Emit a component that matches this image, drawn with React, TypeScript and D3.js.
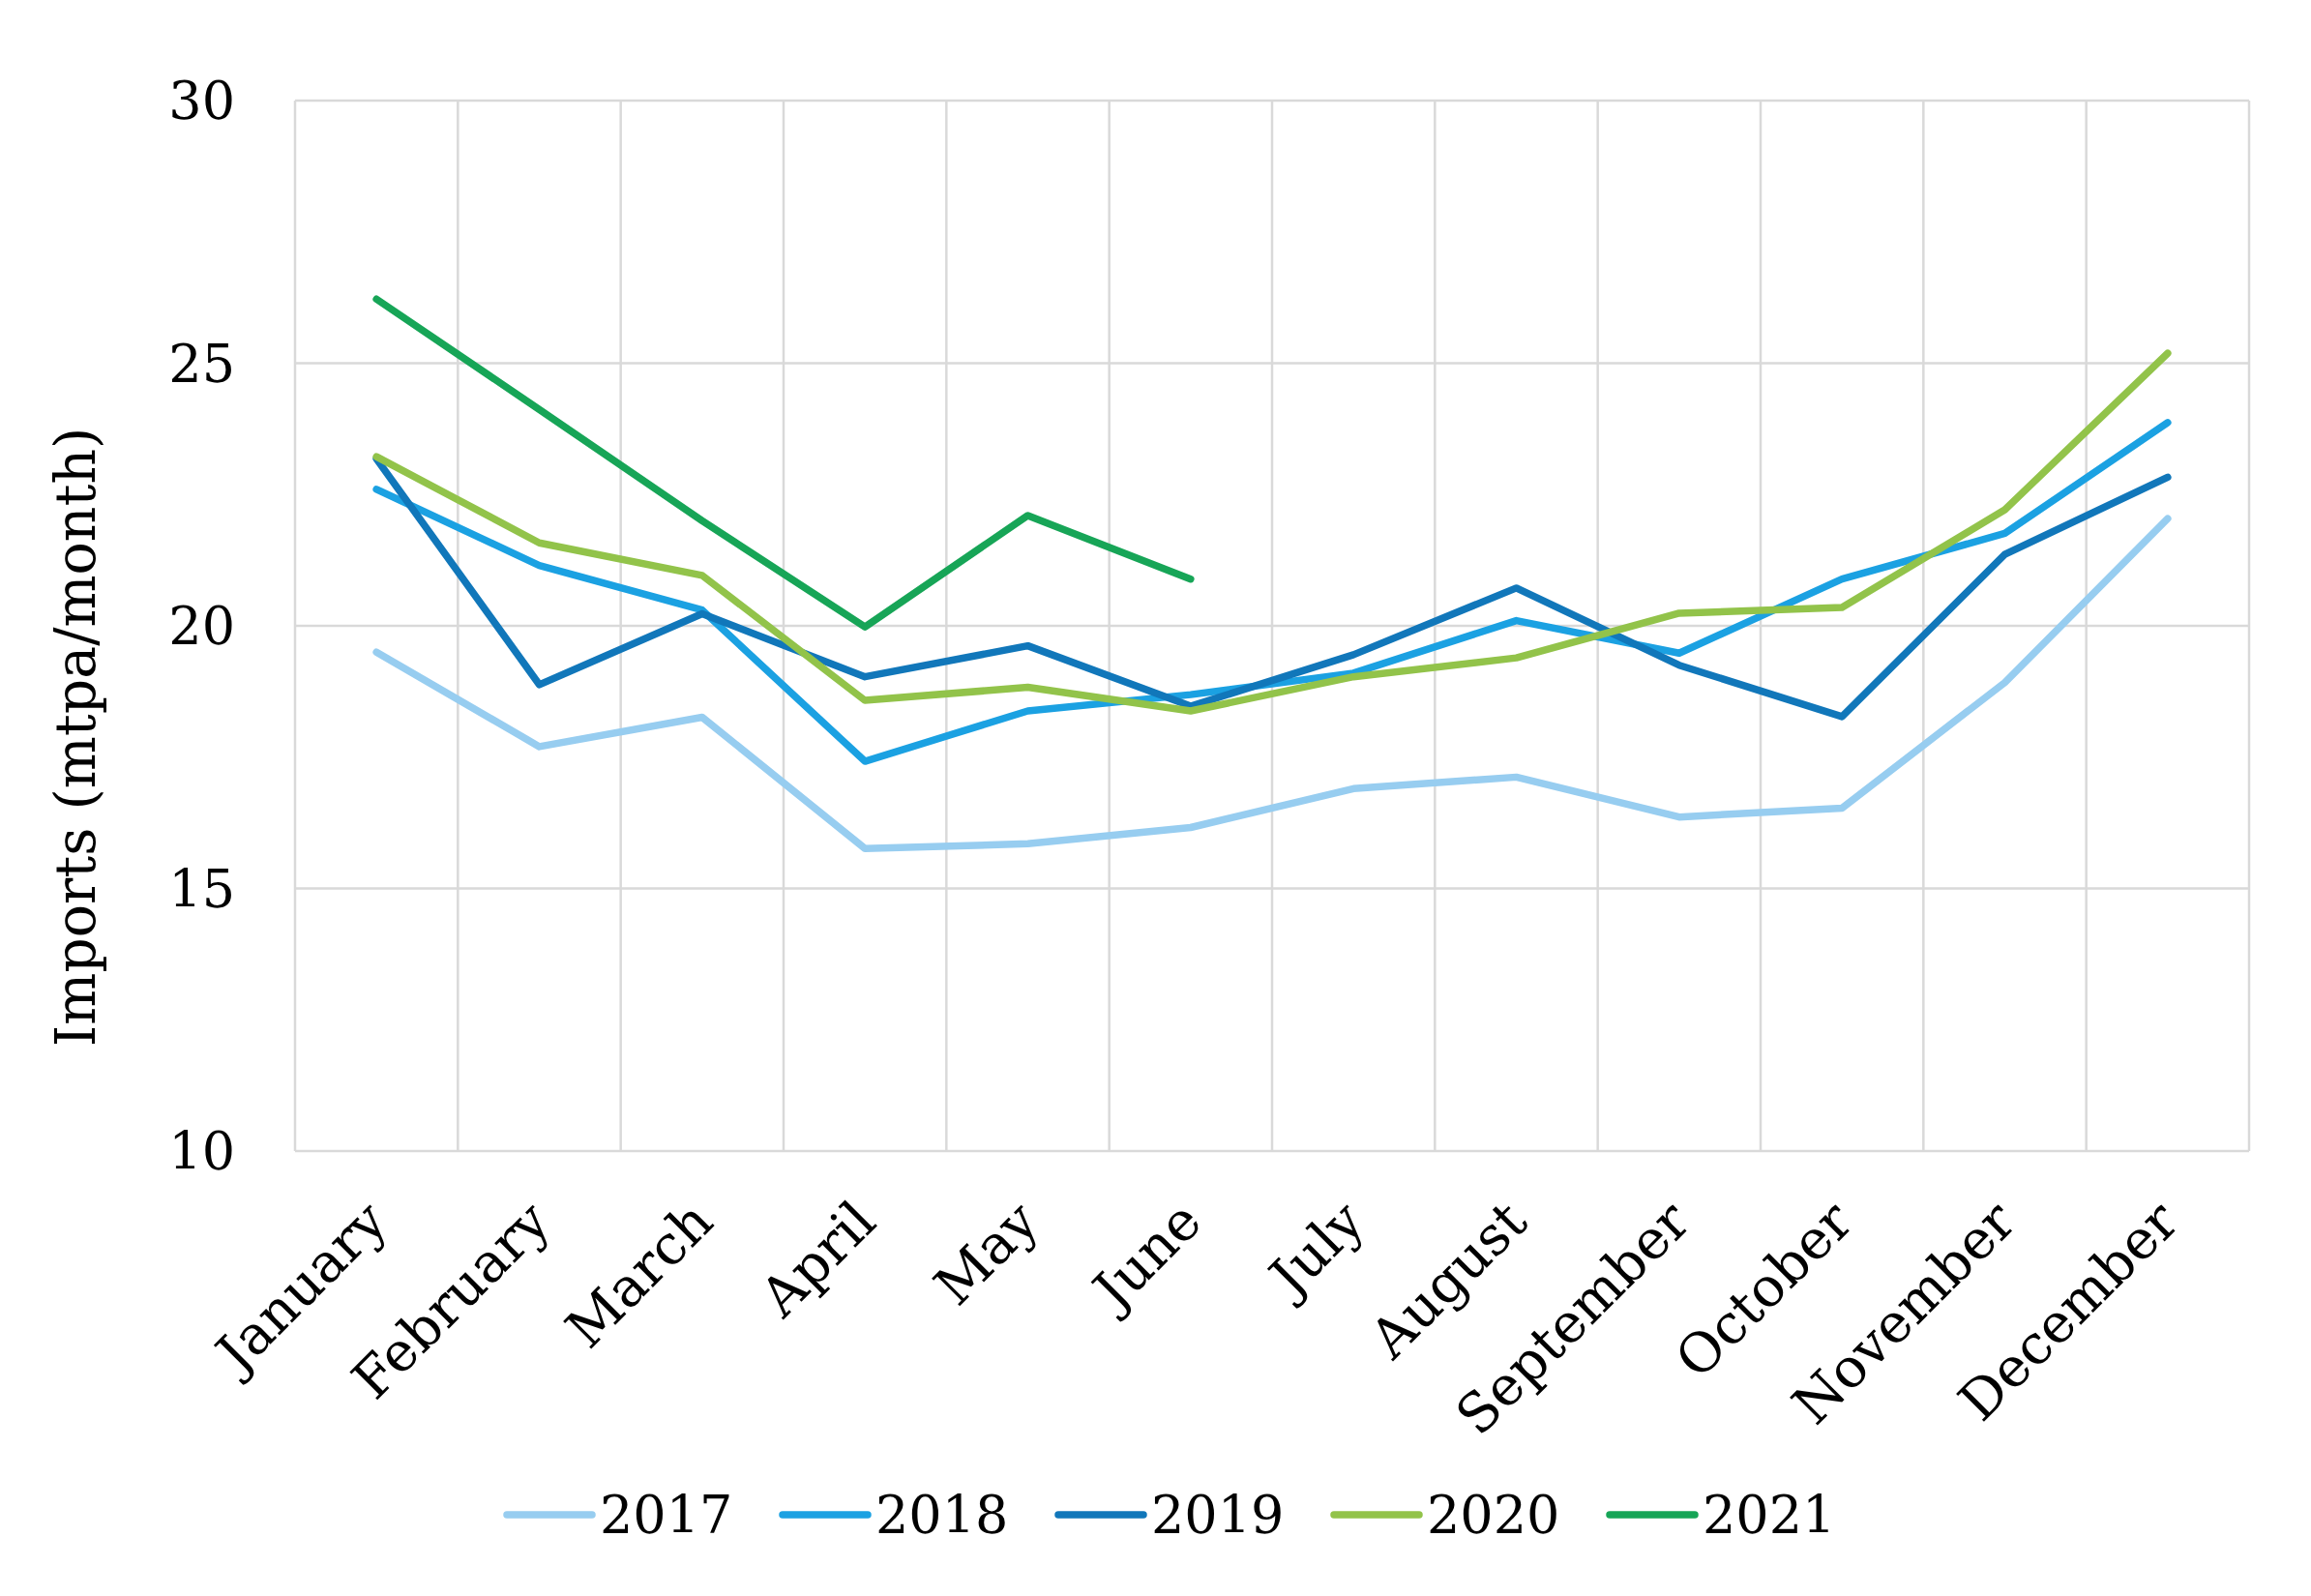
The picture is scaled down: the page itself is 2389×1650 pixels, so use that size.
import { useRef, useEffect } from "react";
import * as d3 from "d3";

const months = [
  "January", "February", "March", "April", "May", "June",
  "July", "August", "September", "October", "November", "December",
];
const years = ["2017", "2018", "2019", "2020", "2021"];
const yTicks = [10, 15, 20, 25, 30];

const s2017 = [19.5, 17.7, 18.26, 15.76, 15.85, 16.16, 16.9, 17.12, 16.36, 16.53, 18.92, 22.04];
const s2018 = [22.6, 21.15, 20.3, 17.42, 18.38, 18.69, 19.1, 20.1, 19.48, 20.89, 21.76, 23.87];
const s2019 = [23.18, 18.88, 20.23, 19.03, 19.62, 18.47, 19.45, 20.72, 19.25, 18.27, 21.36, 22.83];
const s2020 = [23.22, 21.58, 20.96, 18.58, 18.83, 18.38, 19.03, 19.39, 20.24, 20.35, 22.21, 25.19];
const s2021 = [26.22, 24.12, 22.0, 19.98, 22.1, 20.89];

const seriesValues = [s2017, s2018, s2019, s2020, s2021];
const colors = ["#97CDF0", "#1BA1E2", "#1177BA", "#92C34A", "#17A557"];

const W = 2389;
const H = 1650;
const margin = { top: 104, right: 64, bottom: 460, left: 305 };
const FONT = "DejaVu Serif";

export default function App() {
  const ref = useRef<SVGSVGElement>(null);

  useEffect(() => {
    if (!ref.current) return;
    const svg = d3.select(ref.current);
    svg.selectAll("*").remove();

    const x0 = margin.left;
    const x1 = W - margin.right;
    const y0 = margin.top;
    const y1 = H - margin.bottom;

    const x = d3.scaleBand<string>().domain(months).range([x0, x1]);
    const y = d3.scaleLinear().domain([10, 30]).range([y1, y0]);

    // grid
    const grid = svg.append("g").attr("stroke", "#D9D9D9").attr("stroke-width", 2.5);
    yTicks.forEach((t) => {
      grid.append("line").attr("x1", x0).attr("x2", x1).attr("y1", y(t)).attr("y2", y(t));
    });
    const bounds = months.map((m) => x(m)!).concat([x1]);
    bounds.forEach((bx) => {
      grid.append("line").attr("x1", bx).attr("x2", bx).attr("y1", y0).attr("y2", y1);
    });

    // y tick labels
    svg
      .append("g")
      .selectAll("text")
      .data(yTicks)
      .join("text")
      .attr("x", 243)
      .attr("y", (d) => y(d))
      .attr("dy", "0.36em")
      .attr("text-anchor", "end")
      .attr("font-family", FONT)
      .attr("font-size", 54)
      .attr("fill", "#000")
      .text((d) => d);

    // x labels
    svg
      .append("g")
      .selectAll("text")
      .data(months)
      .join("text")
      .attr("transform", (d) => `translate(${x(d)! + x.bandwidth() / 2 + 14},${y1 + 76}) rotate(-45)`)
      .attr("text-anchor", "end")
      .attr("font-family", FONT)
      .attr("font-size", 56)
      .attr("fill", "#000")
      .text((d) => d);

    // axis title
    svg
      .append("text")
      .attr("transform", `translate(98,762) rotate(-90)`)
      .attr("text-anchor", "middle")
      .attr("font-family", FONT)
      .attr("font-size", 57)
      .attr("fill", "#000")
      .text("Imports (mtpa/month)");

    // lines
    const line = d3
      .line<number>()
      .x((_, i) => x(months[i])! + x.bandwidth() / 2)
      .y((d) => y(d));

    seriesValues.forEach((vals, k) => {
      svg
        .append("path")
        .attr("d", line(vals))
        .attr("fill", "none")
        .attr("stroke", colors[k])
        .attr("stroke-width", 7.5)
        .attr("stroke-linecap", "round")
        .attr("stroke-linejoin", "round");
    });

    // legend
    const legendX = d3.scalePoint<string>().domain(years).range([520, 1660]);
    const lg = svg.append("g");
    years.forEach((yr, k) => {
      const lx = legendX(yr)!;
      lg.append("line")
        .attr("x1", lx + 4)
        .attr("x2", lx + 92)
        .attr("y1", 1566)
        .attr("y2", 1566)
        .attr("stroke", colors[k])
        .attr("stroke-width", 7.5)
        .attr("stroke-linecap", "round");
      lg.append("text")
        .attr("x", lx + 100)
        .attr("y", 1566)
        .attr("dy", "0.36em")
        .attr("font-family", FONT)
        .attr("font-size", 54)
        .attr("fill", "#000")
        .text(yr);
    });
  }, []);

  return (
    <svg
      ref={ref}
      width={W}
      height={H}
      style={{ position: "absolute", left: 0, top: 0, background: "#fff" }}
    />
  );
}
